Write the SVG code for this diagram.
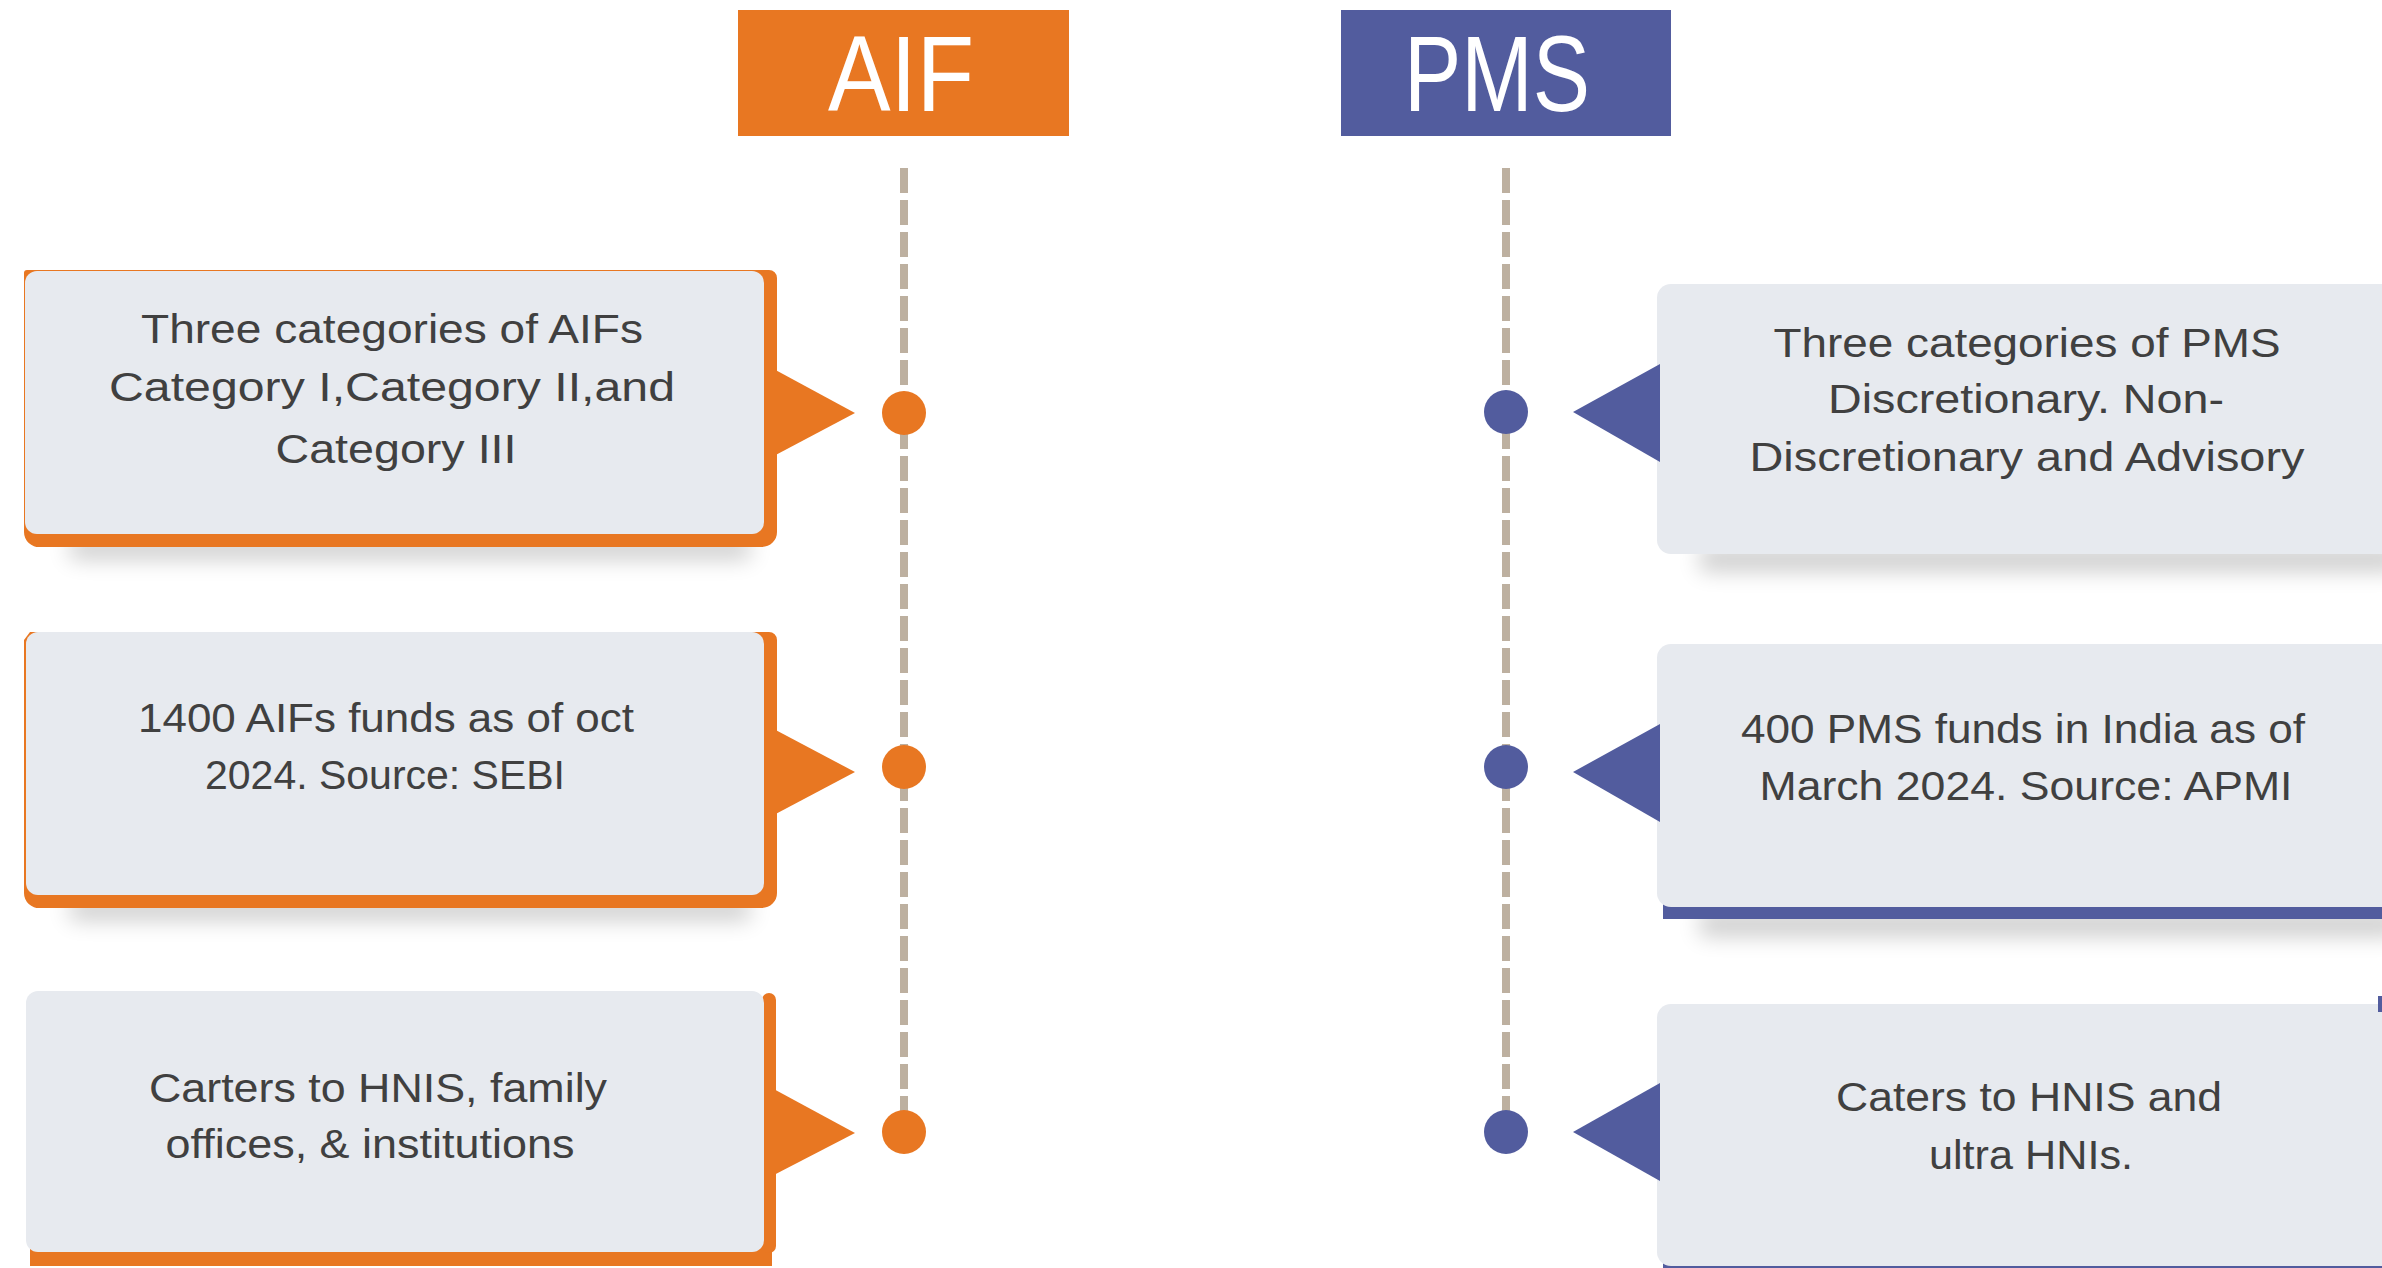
<svg xmlns="http://www.w3.org/2000/svg" width="2382" height="1268" viewBox="0 0 2382 1268">
<defs>
<style>
.hdr{fill:#fff;font-family:"Liberation Sans Narrow","Liberation Sans",Arial,sans-serif;font-size:108px;text-anchor:middle}
.t{fill:#404040;font-family:"Liberation Sans",Arial,sans-serif;font-size:41px;text-anchor:middle}
.card{fill:#e7eaef}
.org{fill:#e87722}
.blu{fill:#525c9e}
.dash{stroke:#bdb0a0;stroke-width:8;stroke-dasharray:25 7;fill:none}
.shadow{fill:#000;opacity:0.2;filter:url(#blur)}
</style>
<filter id="blur" x="-20%" y="-200%" width="140%" height="500%"><feGaussianBlur stdDeviation="11"/></filter>
</defs>
<rect width="2382" height="1268" fill="#fff"/>

<g id="connectors">
<line class="dash" x1="904" y1="168" x2="904" y2="1112"/>
<line class="dash" x1="1506" y1="168" x2="1506" y2="1112"/>
</g>

<g id="aif-header">
<rect x="738" y="10" width="331" height="126" class="org"/>
<text class="hdr" x="901" y="111" textLength="146" lengthAdjust="spacingAndGlyphs">AIF</text>
</g>
<g id="pms-header">
<rect x="1341" y="10" width="330" height="126" class="blu"/>
<text class="hdr" x="1497" y="111" textLength="186" lengthAdjust="spacingAndGlyphs">PMS</text>
</g>

<g id="aif-1">
<rect class="shadow" x="70" y="537" width="680" height="22"/>
<path class="org" d="M27,270 H769 A8,8 0 0 1 777,278 V532 A15,15 0 0 1 762,547 H40 A15,15 0 0 1 24,532 V273 A3,3 0 0 1 27,270 Z"/>
<rect class="card" x="25" y="271" width="739" height="263" rx="12"/>
<polygon class="org" points="770,367 855,413 770,458"/>
<circle class="org" cx="904" cy="413" r="22"/>
<text class="t" x="392" y="343" textLength="502" lengthAdjust="spacingAndGlyphs">Three categories of AIFs</text>
<text class="t" x="392" y="401" textLength="566" lengthAdjust="spacingAndGlyphs">Category I,Category II,and</text>
<text class="t" x="396" y="463" textLength="241" lengthAdjust="spacingAndGlyphs">Category III</text>
</g>

<g id="aif-2">
<rect class="shadow" x="70" y="898" width="680" height="22"/>
<path class="org" d="M30,632 H769 A8,8 0 0 1 777,640 V893 A15,15 0 0 1 762,908 H40 A15,15 0 0 1 24,893 V640 Z"/>
<rect class="card" x="26" y="632" width="738" height="263" rx="12"/>
<polygon class="org" points="770,727 855,772 770,817"/>
<circle class="org" cx="904" cy="767" r="22"/>
<text class="t" x="386" y="732" textLength="496" lengthAdjust="spacingAndGlyphs">1400 AIFs funds as of oct</text>
<text class="t" x="385" y="789" textLength="360" lengthAdjust="spacingAndGlyphs">2024. Source: SEBI</text>
</g>

<g id="aif-3">
<rect class="org" x="30" y="1240" width="742" height="26"/>
<rect class="org" x="762" y="993" width="14" height="260" rx="7"/>
<rect class="card" x="26" y="991" width="738" height="261" rx="12"/>
<polygon class="org" points="770,1087 855,1133 770,1177"/>
<circle class="org" cx="904" cy="1132" r="22"/>
<text class="t" x="378" y="1102" textLength="458" lengthAdjust="spacingAndGlyphs">Carters to HNIS, family</text>
<text class="t" x="370" y="1158" textLength="409" lengthAdjust="spacingAndGlyphs">offices, &amp; institutions</text>
</g>

<g id="pms-1">
<rect class="shadow" x="1700" y="547" width="700" height="24"/>
<rect class="card" x="1657" y="284" width="760" height="270" rx="14"/>
<polygon class="blu" points="1660,364 1573,412 1660,462"/>
<circle class="blu" cx="1506" cy="412" r="22"/>
<text class="t" x="2027" y="357" textLength="507" lengthAdjust="spacingAndGlyphs">Three categories of PMS</text>
<text class="t" x="2026" y="413" textLength="396" lengthAdjust="spacingAndGlyphs">Discretionary. Non-</text>
<text class="t" x="2027" y="471" textLength="555" lengthAdjust="spacingAndGlyphs">Discretionary and Advisory</text>
</g>

<g id="pms-2">
<rect class="shadow" x="1700" y="912" width="700" height="24"/>
<rect class="blu" x="1663" y="900" width="730" height="19"/>
<rect class="card" x="1657" y="644" width="760" height="263" rx="14"/>
<polygon class="blu" points="1660,724 1573,772 1660,822"/>
<circle class="blu" cx="1506" cy="767" r="22"/>
<text class="t" x="2023" y="743" textLength="564" lengthAdjust="spacingAndGlyphs">400 PMS funds in India as of</text>
<text class="t" x="2026" y="800" textLength="533" lengthAdjust="spacingAndGlyphs">March 2024. Source: APMI</text>
</g>

<g id="pms-3">
<rect class="blu" x="1663" y="1260" width="730" height="8"/>
<rect class="card" x="1657" y="1004" width="760" height="262" rx="14"/>
<rect class="blu" x="2378" y="996" width="4" height="16"/>
<polygon class="blu" points="1660,1083 1573,1132 1660,1181"/>
<circle class="blu" cx="1506" cy="1132" r="22"/>
<text class="t" x="2029" y="1111" textLength="386" lengthAdjust="spacingAndGlyphs">Caters to HNIS and</text>
<text class="t" x="2031" y="1169" textLength="204" lengthAdjust="spacingAndGlyphs">ultra HNIs.</text>
</g>
</svg>
